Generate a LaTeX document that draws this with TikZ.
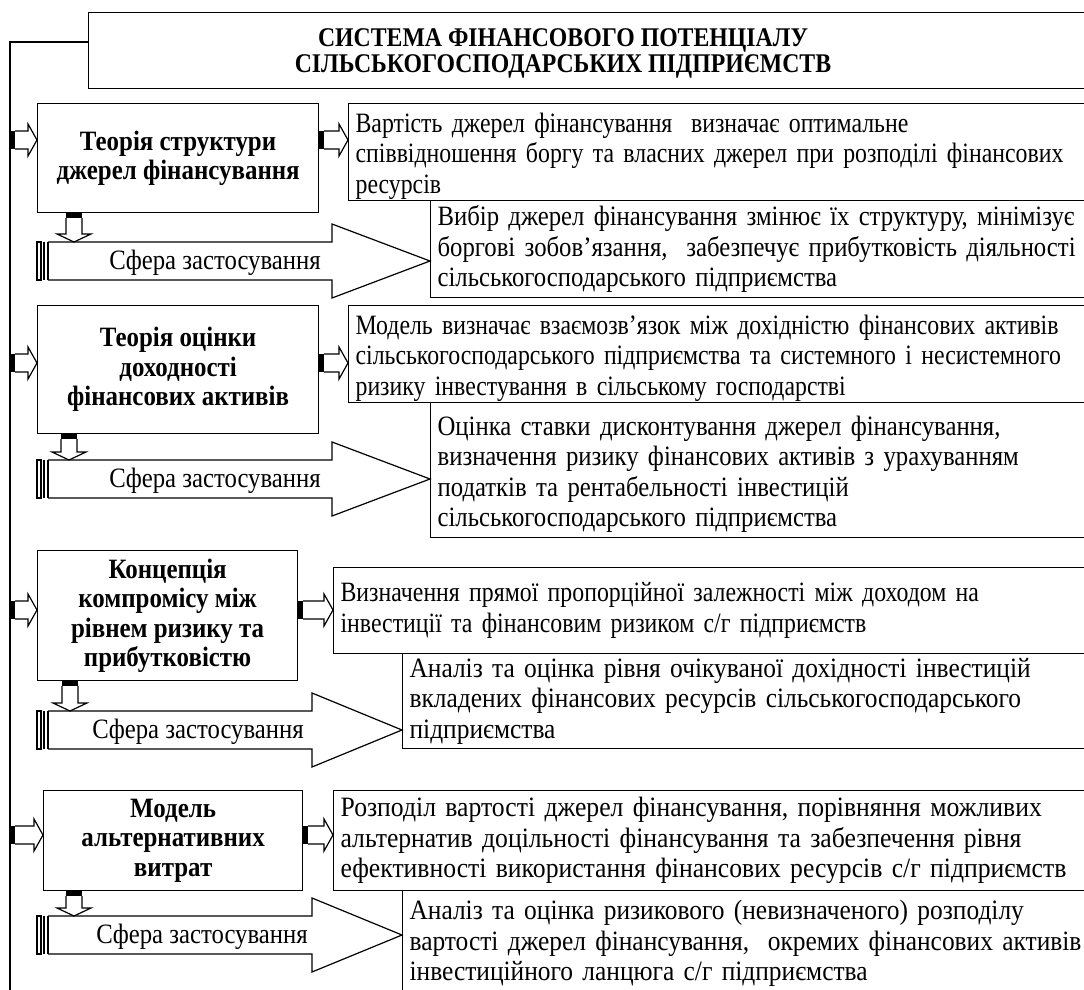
\documentclass[tikz,border=0pt]{standalone}
\usepackage{fontspec}
\setmainfont{Liberation Serif}[FakeStretch=0.85]
\newfontfamily\fB{Liberation Serif}[FakeStretch=0.883]
\newfontfamily\fC{Liberation Serif}[FakeStretch=0.908]
\newfontfamily\fD{Liberation Serif}[FakeStretch=0.917]
\newfontfamily\fH{Liberation Serif}[FakeStretch=0.89]
\newfontfamily\fT{Liberation Serif}[FakeStretch=0.88]
\usetikzlibrary{calc}
\newcommand\bodyfont{\fontsize{28}{30.5}\selectfont}
\newcommand\headfont{\fH\fontsize{28}{29.5}\selectfont\bfseries}
\newcommand\titlefont{\fT\fontsize{27}{26}\selectfont\bfseries}
% lower a block of left-aligned lines without changing its reported size
\newcommand\lowered[2]{\raisebox{-#1}[\height][\depth]{\parbox{820pt}{\raggedright\spaceskip=.3333em\xspaceskip=.5em\relax #2}}}
\tikzset{
  conn/.style={draw, line width=1.2pt, fill=white, line join=miter},
  tbox/.style={draw, line width=1.2pt, anchor=north west, inner xsep=7pt, inner ysep=0pt,
    text width=820pt, align=left, font=\bodyfont},
  tboxp/.style={draw, line width=1.2pt, anchor=north west, inner xsep=7pt, inner ysep=0pt, font=\bodyfont},
  abox/.style={draw, line width=1.2pt, anchor=north west, inner sep=0pt, align=center, font=\headfont},
  sftext/.style={font=\fB\bodyfont, inner sep=0pt},
}
\newcommand\arrR[2]{%
  \fill let \p1=(#1) in (\x1,\y1-9pt) rectangle (\x1+5pt,\y1+9pt);
  \draw[conn] let \p1=(#1), \p2=(#2) in (\x1+5pt,\y1+9pt) -- (\x2-9pt,\y1+9pt) -- (\x2-9pt,\y1+16pt) -- (\x2,\y1) -- (\x2-9pt,\y1-16pt) -- (\x2-9pt,\y1-9pt) -- (\x1+5pt,\y1-9pt);}
\newcommand\arrD[2]{%
  \fill let \p1=(#1) in (\x1-8pt,\y1) rectangle (\x1+8pt,\y1-5pt);
  \draw[conn] let \p1=(#1), \p2=(#2) in (\x1-8pt,\y1-5pt) -- (\x1-8pt,\y2+8pt) -- (\x1-17pt,\y2+8pt) -- (\x2,\y2) -- (\x1+17pt,\y2+8pt) -- (\x1+8pt,\y2+8pt) -- (\x1+8pt,\y1-5pt);}
% #1 name, #2 centre y, #3 head base x, #4 tip x, #5 text x, #6 down-arrow x
\newcommand\sfera[6]{%
  \draw[conn] (48,#2-19) -- (#3,#2-19) -- (#3,#2-37) -- (#4,#2) -- (#3,#2+37) -- (#3,#2+19) -- (48,#2+19);
  \draw[line width=1.2pt] (37,#2-19) rectangle (41,#2+19);
  \draw[line width=1.2pt] (44,#2-19) -- (44,#2+19);
  \draw[line width=2.2pt] (48,#2-19) -- (48,#2+19);
  \node[sftext] (#1) at (#5,#2+2) {Сфера застосування};
  \coordinate (#1top) at (#6,#2-19);
  \coordinate (#1tip) at (#4,#2);}
\begin{document}
\begin{tikzpicture}[x=1pt,y=-1pt]
\useasboundingbox (0,0) rectangle (1084,990);
\fill[white] (0,0) rectangle (1084,990);
\clip (0,0) rectangle (1084,990);

% title
\node[draw, line width=1.2pt, anchor=north west, minimum width=1020pt, minimum height=76pt, inner sep=0pt] (Title) at (88,12) {};
\node[font=\titlefont, align=center, inner sep=0pt] (TitleText) at (563,53) {СИСТЕМА ФІНАНСОВОГО ПОТЕНЦІАЛУ\\СІЛЬСЬКОГОСПОДАРСЬКИХ ПІДПРИЄМСТВ};
\coordinate (fb) at (10,1000);
\draw[line width=1.2pt] ($(Title.north west)+(0,30)$) -| (fb);

% row 1
\node[abox, minimum width=281pt, minimum height=109pt] (A1) at (37,103) {Теорія структури\\джерел фінансування};
\node[tboxp, minimum height=97pt] (T1) at (348,103) {\lowered{4pt}{Вартість джерел фінансування\ \ визначає оптимальне\\співвідношення боргу та власних джерел при розподілі фінансових\\ресурсів}};
\node[tbox, minimum height=97pt, font=\fB\bodyfont] (T2) at (430,200) {Вибір джерел фінансування змінює їх структуру, мінімізує\\боргові зобов’язання,\ \ забезпечує прибутковість діяльності\\сільськогосподарського підприємства};
\sfera{S1}{261}{332}{430}{215}{74}
\arrR{fb |- 0,140}{A1.west |- 0,140}
\arrR{A1.east |- 0,140}{T1.west |- 0,140}
\arrD{A1.south -| S1top}{S1top}

% row 2
\node[abox, minimum width=281pt, minimum height=128pt] (A2) at (37,305) {Теорія оцінки\\доходності\\фінансових активів};
\node[tboxp, minimum height=97pt] (T3) at (348,305) {\lowered{4pt}{Модель визначає взаємозв’язок між дохідністю фінансових активів\\сільськогосподарського підприємства та системного і несистемного\\ризику інвестування в сільському господарстві}};
\node[tboxp, minimum height=135pt, font=\fB\bodyfont] (T4) at (430,402) {\lowered{4pt}{Оцінка ставки дисконтування джерел фінансування,\\визначення ризику фінансових активів з урахуванням\\податків та рентабельності інвестицій\\сільськогосподарського підприємства}};
\sfera{S2}{479}{332}{430}{215}{69}
\arrR{fb |- 0,363}{A2.west |- 0,363}
\arrR{A2.east |- 0,363}{T3.west |- 0,363}
\arrD{A2.south -| S2top}{S2top}

% row 3
\node[abox, minimum width=260pt, minimum height=130pt] (A3) at (37,550) {Концепція\\компромісу між\\рівнем ризику та\\прибутковістю};
\node[tbox, minimum height=86pt] (T5) at (333,567) {Визначення прямої пропорційної залежності між доходом на\\інвестиції та фінансовим ризиком с/г підприємств};
\node[tbox, minimum height=95pt, font=\fC\bodyfont] (T6) at (402,653) {Аналіз та оцінка рівня очікуваної дохідності інвестицій\\вкладених фінансових ресурсів сільськогосподарського\\підприємства};
\sfera{S3}{730}{312}{402}{198}{70}
\arrR{fb |- 0,610}{A3.west |- 0,610}
\arrR{A3.east |- 0,610}{T5.west |- 0,610}
\arrD{A3.south -| S3top}{S3top}

% row 4
\node[abox, minimum width=259pt, minimum height=100pt] (A4) at (43,790) {Модель\\альтернативних\\витрат};
\node[tbox, minimum height=100pt, font=\fD\bodyfont] (T7) at (333,790) {Розподіл вартості джерел фінансування, порівняння можливих\\альтернатив доцільності фінансування та забезпечення рівня\\ефективності використання фінансових ресурсів с/г підприємств};
\node[tbox, minimum height=106pt, font=\fC\bodyfont] (T8) at (402,890) {Аналіз та оцінка ризикового (невизначеного) розподілу\\вартості джерел фінансування,\ \ окремих фінансових активів\\інвестиційного ланцюга с/г підприємства};
\sfera{S4}{935}{312}{402}{202}{74}
\arrR{fb |- 0,835}{A4.west |- 0,835}
\arrR{A4.east |- 0,835}{T7.west |- 0,835}
\arrD{A4.south -| S4top}{S4top}
\end{tikzpicture}
\end{document}
